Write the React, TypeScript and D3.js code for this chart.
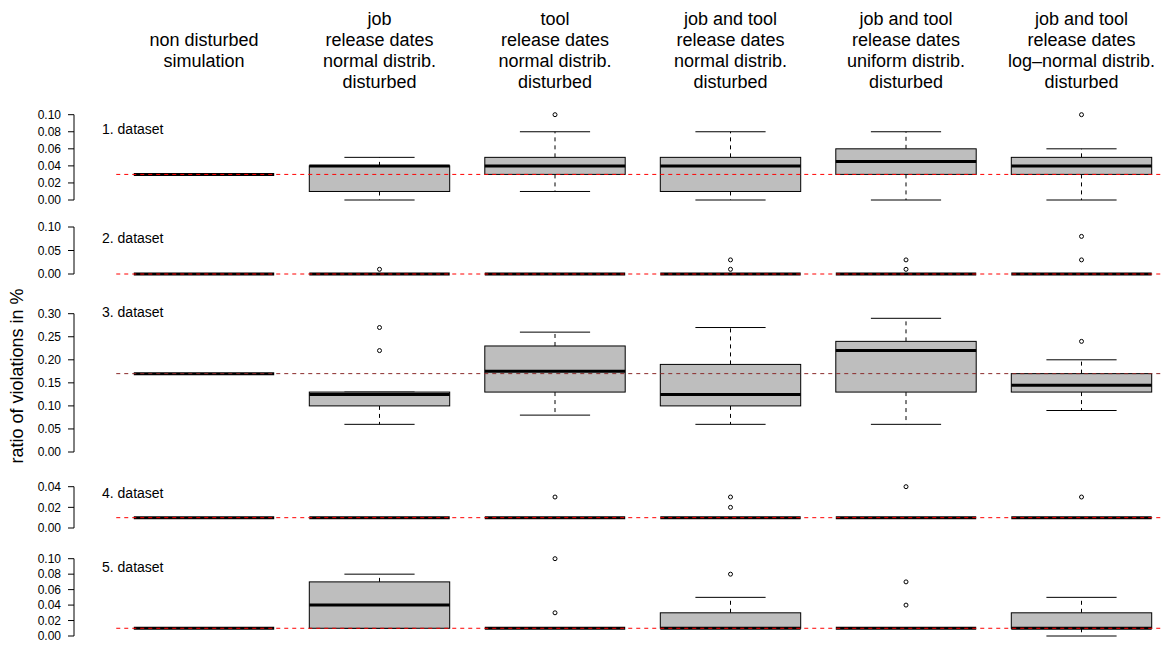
import * as d3 from "d3";

const CONDITIONS = [
  ["non disturbed", "simulation"],
  ["job", "release dates", "normal distrib.", "disturbed"],
  ["tool", "release dates", "normal distrib.", "disturbed"],
  ["job and tool", "release dates", "normal distrib.", "disturbed"],
  ["job and tool", "release dates", "uniform distrib.", "disturbed"],
  ["job and tool", "release dates", "log\u2013normal distrib.", "disturbed"],
];

const DATASETS = ["1. dataset", "2. dataset", "3. dataset", "4. dataset", "5. dataset"];

// [lower whisker, Q1, median, Q3, upper whisker] per condition
const DS1_STATS = [
  [0.03, 0.03, 0.03, 0.03, 0.03],
  [0.0, 0.01, 0.04, 0.04, 0.05],
  [0.01, 0.03, 0.04, 0.05, 0.08],
  [0.0, 0.01, 0.04, 0.05, 0.08],
  [0.0, 0.03, 0.045, 0.06, 0.08],
  [0.0, 0.03, 0.04, 0.05, 0.06],
];
const DS1_OUTLIERS = [[], [], [0.1], [], [], [0.1]];

const DS2_STATS = [
  [0, 0, 0, 0, 0],
  [0, 0, 0, 0, 0],
  [0, 0, 0, 0, 0],
  [0, 0, 0, 0, 0],
  [0, 0, 0, 0, 0],
  [0, 0, 0, 0, 0],
];
const DS2_OUTLIERS = [[], [0.01], [], [0.03, 0.01], [0.03, 0.01], [0.08, 0.03]];

const DS3_STATS = [
  [0.17, 0.17, 0.17, 0.17, 0.17],
  [0.06, 0.1, 0.125, 0.13, 0.13],
  [0.08, 0.13, 0.175, 0.23, 0.26],
  [0.06, 0.1, 0.125, 0.19, 0.27],
  [0.06, 0.13, 0.22, 0.24, 0.29],
  [0.09, 0.13, 0.145, 0.17, 0.2],
];
const DS3_OUTLIERS = [[], [0.27, 0.22], [], [], [], [0.24]];

const DS4_STATS = [
  [0.01, 0.01, 0.01, 0.01, 0.01],
  [0.01, 0.01, 0.01, 0.01, 0.01],
  [0.01, 0.01, 0.01, 0.01, 0.01],
  [0.01, 0.01, 0.01, 0.01, 0.01],
  [0.01, 0.01, 0.01, 0.01, 0.01],
  [0.01, 0.01, 0.01, 0.01, 0.01],
];
const DS4_OUTLIERS = [[], [], [0.03], [0.03, 0.02], [0.04], [0.03]];

const DS5_STATS = [
  [0.01, 0.01, 0.01, 0.01, 0.01],
  [0.01, 0.01, 0.04, 0.07, 0.08],
  [0.01, 0.01, 0.01, 0.01, 0.01],
  [0.01, 0.01, 0.01, 0.03, 0.05],
  [0.01, 0.01, 0.01, 0.01, 0.01],
  [0.0, 0.01, 0.01, 0.03, 0.05],
];
const DS5_OUTLIERS = [[], [], [0.1, 0.03], [0.08], [0.07, 0.04], []];

const REF_LINES = [0.03, 0, 0.17, 0.01, 0.01];

const Y_TICKS = [
  [0, 0.02, 0.04, 0.06, 0.08, 0.1],
  [0, 0.05, 0.1],
  [0, 0.05, 0.1, 0.15, 0.2, 0.25, 0.3],
  [0, 0.02, 0.04],
  [0, 0.02, 0.04, 0.06, 0.08, 0.1],
];

const STATS = [DS1_STATS, DS2_STATS, DS3_STATS, DS4_STATS, DS5_STATS];
const OUTLIERS = [DS1_OUTLIERS, DS2_OUTLIERS, DS3_OUTLIERS, DS4_OUTLIERS, DS5_OUTLIERS];

// layout
const W = 1164;
const H = 645;
const AXIS_X = 74;
const PANELS = [
  { top: 114.7, bottom: 200, label: 129 },
  { top: 227, bottom: 274, label: 238 },
  { top: 313.7, bottom: 452, label: 311.7 },
  { top: 486.7, bottom: 528, label: 493 },
  { top: 558.7, bottom: 636, label: 566.7 },
];
const FONT = "Liberation Sans, Arial, Helvetica, sans-serif";
const fmt = d3.format(".2f");

const x = d3.scaleLinear().domain([1, 6]).range([204, 1081.5]);
const step = x(2) - x(1);
const boxW = step * 0.8;
const capW = boxW / 2;

function Panel({ idx }: { idx: number }) {
  const p = PANELS[idx];
  const ticks = Y_TICKS[idx];
  const y = d3
    .scaleLinear()
    .domain([0, ticks[ticks.length - 1]])
    .range([p.bottom, p.top]);
  const stats = STATS[idx];
  const outs = OUTLIERS[idx];
  const ref = REF_LINES[idx];
  const refColor = idx === 2 ? "#8a2a2a" : "#ff0000";

  return (
    <g>
      {/* y axis */}
      <line x1={AXIS_X} x2={AXIS_X} y1={y(ticks[0])} y2={y(ticks[ticks.length - 1])} stroke="#000" />
      {ticks.map((t) => (
        <g key={t}>
          <line x1={AXIS_X - 6} x2={AXIS_X} y1={y(t)} y2={y(t)} stroke="#000" />
          <text
            x={AXIS_X - 13}
            y={y(t)}
            dy="0.35em"
            textAnchor="end"
            fontSize={12}
            fontFamily={FONT}
          >
            {fmt(t)}
          </text>
        </g>
      ))}
      <text x={102} y={p.label} fontSize={14} fontFamily={FONT} dy="0.35em">
        {DATASETS[idx]}
      </text>

      {stats.map((s, i) => {
        const cx = x(i + 1);
        const [lo, q1, med, q3, hi] = s;
        return (
          <g key={i}>
            <line x1={cx} x2={cx} y1={y(q3)} y2={y(hi)} stroke="#000" strokeDasharray="4,4" />
            <line x1={cx} x2={cx} y1={y(q1)} y2={y(lo)} stroke="#000" strokeDasharray="4,4" />
            <line x1={cx - capW / 2} x2={cx + capW / 2} y1={y(hi)} y2={y(hi)} stroke="#000" />
            <line x1={cx - capW / 2} x2={cx + capW / 2} y1={y(lo)} y2={y(lo)} stroke="#000" />
            <rect
              x={cx - boxW / 2}
              y={y(q3)}
              width={boxW}
              height={Math.max(0, y(q1) - y(q3))}
              fill="#bebebe"
              stroke="#000"
            />
            <line
              x1={cx - boxW / 2}
              x2={cx + boxW / 2}
              y1={y(med)}
              y2={y(med)}
              stroke="#000"
              strokeWidth={3}
            />
            {outs[i].map((o, j) => (
              <circle key={j} cx={cx} cy={y(o)} r={2} fill="none" stroke="#000" strokeWidth={1} />
            ))}
          </g>
        );
      })}

      <line
        x1={x(0.5)}
        x2={W}
        y1={y(ref)}
        y2={y(ref)}
        stroke={refColor}
        strokeDasharray="4,4"
      />
    </g>
  );
}

export default function App() {
  return (
    <div style={{ position: "fixed", left: 0, top: 0, background: "#fff" }}>
      <svg width={W} height={H} style={{ display: "block" }}>
        <rect width={W} height={H} fill="#fff" />
        {CONDITIONS.map((lines, i) => {
          const offset = (4 - lines.length) / 2;
          return (
            <text key={i} textAnchor="middle" fontSize={18} fontFamily={FONT}>
              {lines.map((l, j) => (
                <tspan key={j} x={x(i + 1)} y={24.5 + (j + offset) * 21}>
                  {l}
                </tspan>
              ))}
            </text>
          );
        })}
        <text
          transform={`translate(23,376) rotate(-90)`}
          textAnchor="middle"
          fontSize={18}
          fontFamily={FONT}
        >
          ratio of violations in %
        </text>
        {DATASETS.map((_, i) => (
          <Panel key={i} idx={i} />
        ))}
      </svg>
    </div>
  );
}
